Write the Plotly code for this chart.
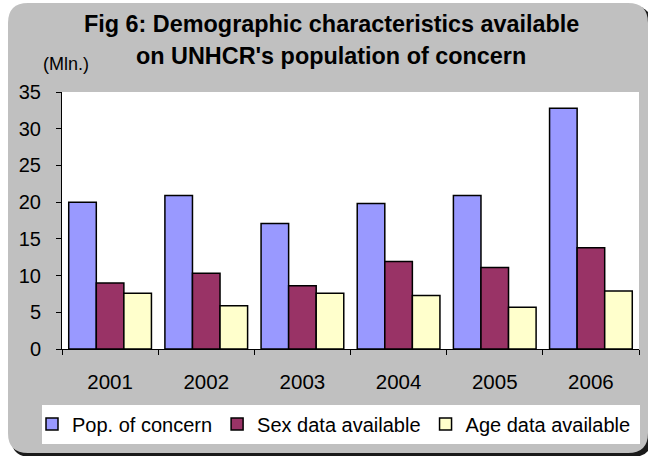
import plotly.graph_objects as go

years = ["2001", "2002", "2003", "2004", "2005", "2006"]
pop_concern = [20.0, 20.9, 17.1, 19.8, 20.9, 32.8]
sex_data = [9.0, 10.3, 8.6, 11.9, 11.1, 13.8]
age_data = [7.6, 5.9, 7.6, 7.3, 5.7, 7.9]
y_ticks = [0, 5, 10, 15, 20, 25, 30, 35]

W, H = 648, 456
L, R, T, B = 62, 9, 92, 107
PW, PH = W - L - R, H - T - B

def px(x):
    return (x - L) / PW

def py(y):
    return (H - B - y) / PH

def rrect(x0, y0, x1, y1, r):
    pts = [
        f"M {px(x0 + r)} {py(y0)}",
        f"L {px(x1 - r)} {py(y0)}",
        f"Q {px(x1)} {py(y0)} {px(x1)} {py(y0 + r)}",
        f"L {px(x1)} {py(y1 - r)}",
        f"Q {px(x1)} {py(y1)} {px(x1 - r)} {py(y1)}",
        f"L {px(x0 + r)} {py(y1)}",
        f"Q {px(x0)} {py(y1)} {px(x0)} {py(y1 - r)}",
        f"L {px(x0)} {py(y0 + r)}",
        f"Q {px(x0)} {py(y0)} {px(x0 + r)} {py(y0)}",
        "Z",
    ]
    return " ".join(pts)

FONT = "Liberation Sans, Arial, sans-serif"

fig = go.Figure()
for name, vals, color in [
    ("Pop. of concern", pop_concern, "#9999FF"),
    ("Sex data available", sex_data, "#993366"),
    ("Age data available", age_data, "#FFFFCC"),
]:
    fig.add_trace(go.Bar(
        x=years, y=vals, name=name,
        marker=dict(color=color, line=dict(color="black", width=1.5)),
    ))

shapes = [
    dict(type="path", xref="paper", yref="paper", layer="below",
         path=rrect(11, 6, 652, 457, 20), fillcolor="#1a1a1a", line=dict(width=0)),
    dict(type="path", xref="paper", yref="paper", layer="below",
         path=rrect(8, 3, 648, 453, 20), fillcolor="#C0C0C0", line=dict(width=0)),
    dict(type="rect", xref="paper", yref="paper", layer="below",
         x0=0, x1=1, y0=0, y1=1, fillcolor="white", line=dict(width=0)),
    dict(type="rect", xref="paper", yref="paper", layer="below",
         x0=px(42), x1=px(640), y0=py(444), y1=py(405), fillcolor="white", line=dict(width=0)),
]

annotations = [
    dict(text="<b>Fig 6: Demographic characteristics available</b>", x=px(331), y=py(24),
         xref="paper", yref="paper", showarrow=False, xanchor="center", yanchor="middle",
         font=dict(size=23.4, color="black", family=FONT)),
    dict(text="<b>on UNHCR's population of concern</b>", x=px(331), y=py(56),
         xref="paper", yref="paper", showarrow=False, xanchor="center", yanchor="middle",
         font=dict(size=23.4, color="black", family=FONT)),
    dict(text="(Mln.)", x=px(66), y=py(64),
         xref="paper", yref="paper", showarrow=False, xanchor="center", yanchor="middle",
         font=dict(size=18, color="black", family=FONT)),
]

fig.update_layout(
    width=W, height=H,
    margin=dict(l=L, r=R, t=T, b=B, pad=0, autoexpand=False),
    paper_bgcolor="white",
    plot_bgcolor="rgba(0,0,0,0)",
    barmode="group", bargap=0.14, bargroupgap=0,
    font=dict(family=FONT, size=20, color="black"),
    shapes=shapes,
    annotations=annotations,
    showlegend=True,
    legend=dict(orientation="h", xref="paper", yref="paper",
                x=px(32), xanchor="left", y=py(424), yanchor="middle",
                bgcolor="rgba(0,0,0,0)", font=dict(size=20, family=FONT, color="black"),
                itemwidth=30, tracegroupgap=0),
    xaxis=dict(type="category", showline=True, linecolor="black", linewidth=1,
               ticks="outside", tickson="boundaries", ticklen=5, tickcolor="black",
               showgrid=False, ticklabelstandoff=14, fixedrange=True,
               tickfont=dict(size=20.5)),
    yaxis=dict(range=[0, 35], tickvals=y_ticks, showline=True, linecolor="black", linewidth=1,
               ticks="outside", ticklen=5, tickcolor="black", showgrid=False,
               zeroline=False, ticklabelstandoff=11, fixedrange=True),
)

fig.write_html("out.html", config={"displayModeBar": False},
               post_script="document.body.style.margin='0';")
